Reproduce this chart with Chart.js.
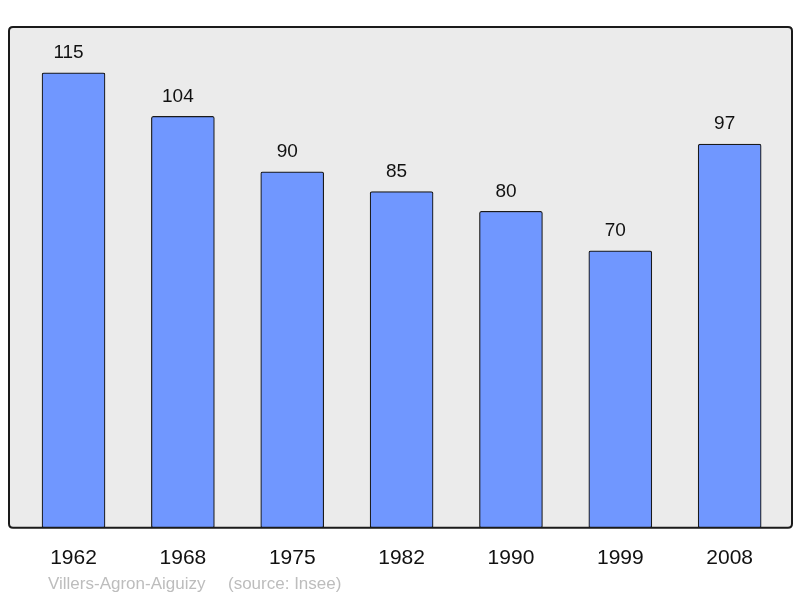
<!DOCTYPE html>
<html>
<head>
<meta charset="utf-8">
<script src="https://cdn.jsdelivr.net/npm/chart.js@4"></script>
<style>
  html, body { margin: 0; padding: 0; background: #fff; }
  #wrap { width: 800px; height: 598px; }
</style>
</head>
<body>
<div id="wrap"><canvas id="myChart" width="800" height="598"></canvas></div>
<script>
let years = ['1962', '1968', '1975', '1982', '1990', '1999', '2008']
let population = [115, 104, 90, 85, 80, 70, 97]
let commune = 'Villers-Agron-Aiguizy'
let source = '(source: Insee)'

let corBarra = 'rgb(112, 151, 255)'
let corFundo = '#ebebeb'
let corBorda = '#1a1a1a'

function roundRect(c, x, y, w, h, r) {
    c.beginPath()
    c.moveTo(x + r, y)
    c.lineTo(x + w - r, y)
    c.quadraticCurveTo(x + w, y, x + w, y + r)
    c.lineTo(x + w, y + h - r)
    c.quadraticCurveTo(x + w, y + h, x + w - r, y + h)
    c.lineTo(x + r, y + h)
    c.quadraticCurveTo(x, y + h, x, y + h - r)
    c.lineTo(x, y + r)
    c.quadraticCurveTo(x, y, x + r, y)
    c.closePath()
}

const moldura = {
    id: 'moldura',
    beforeDatasetsDraw(chart) {
        const a = chart.chartArea, c = chart.ctx
        c.save()
        roundRect(c, a.left, a.top, a.right - a.left, a.bottom - a.top, 4)
        c.fillStyle = corFundo
        c.fill()
        c.restore()
    },
    afterDatasetsDraw(chart) {
        const a = chart.chartArea, c = chart.ctx
        c.save()
        // valores acima das barras (um pouco à esquerda, como no original)
        c.font = '19px "Liberation Sans", Arial, sans-serif'
        c.fillStyle = '#111'
        c.textAlign = 'center'
        c.textBaseline = 'middle'
        chart.getDatasetMeta(0).data.forEach((bar, i) => {
            c.fillText(population[i], bar.x - 5, bar.y - 20)
        })
        roundRect(c, a.left, a.top, a.right - a.left, a.bottom - a.top, 4)
        c.lineWidth = 2
        c.strokeStyle = corBorda
        c.stroke()
        // rodapé
        c.font = '17px "Liberation Sans", Arial, sans-serif'
        c.fillStyle = '#bdbdbd'
        c.textAlign = 'left'
        c.textBaseline = 'alphabetic'
        c.fillText(commune, 48, 589)
        c.fillText(source, 228, 589)
        c.restore()
    }
}

const ctx = document.getElementById('myChart').getContext('2d')
let myChart = new Chart(ctx, {
    type: 'bar',
    data: {
        datasets: [{
            data: population.map((v, i) => ({ x: i, y: v })),
            backgroundColor: corBarra,
            borderColor: corBorda,
            borderWidth: 1.2,
            borderRadius: 2,
            borderSkipped: false,
            barThickness: 63
        }]
    },
    options: {
        responsive: false,
        animation: false,
        layout: { padding: { left: 9, right: 8, top: 27, bottom: 9 } },
        plugins: {
            legend: { display: false },
            tooltip: { enabled: false }
        },
        scales: {
            x: {
                type: 'linear',
                offset: false,
                min: -0.59,
                max: 6.57,
                grid: { display: false, drawTicks: false },
                border: { display: false },
                afterBuildTicks: s => { s.ticks = years.map((y, i) => ({ value: i })) },
                ticks: {
                    padding: 18,
                    autoSkip: false,
                    maxRotation: 0,
                    color: '#111',
                    font: { size: 21, family: '"Liberation Sans", Arial, sans-serif' },
                    callback: v => years[v]
                }
            },
            y: {
                display: false,
                min: 0,
                max: 126.6
            }
        }
    },
    plugins: [moldura]
})
</script>
</body>
</html>
